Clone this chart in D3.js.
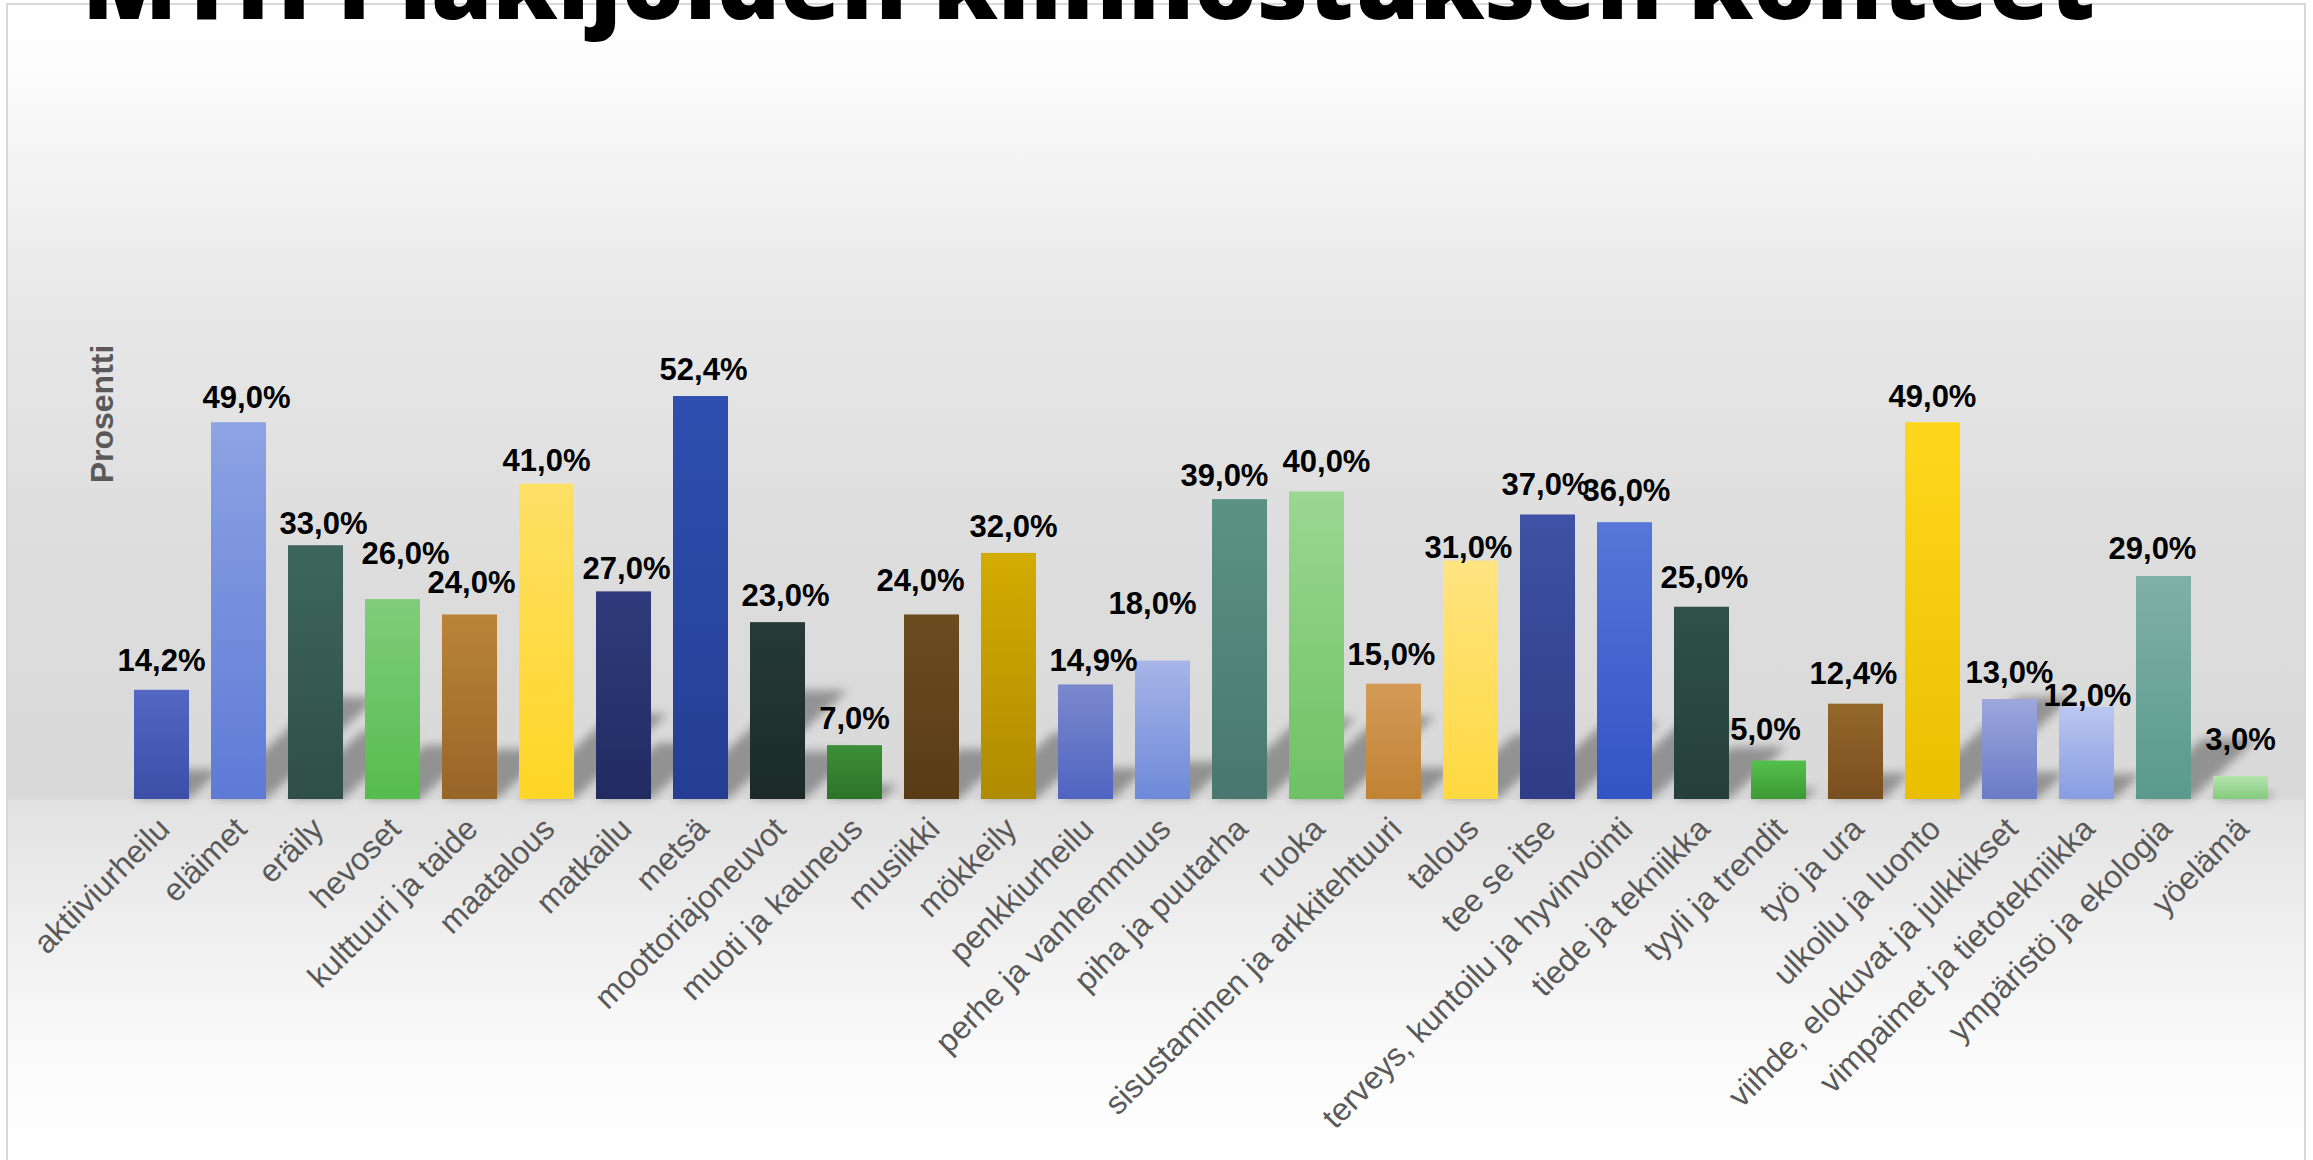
<!DOCTYPE html>
<meta charset="utf-8">
<style>
body {
  margin: 0;
  background: #fff;
}
.title {
  font-family: "Open Sans", "Liberation Sans", sans-serif;
  font-weight: 800;
  fill: #000;
}
.value-label {
  font-family: "Liberation Sans", Arial, sans-serif;
  font-weight: bold;
  font-size: 31px;
  fill: #000;
}
.axis--x text {
  font-family: "Liberation Sans", Arial, sans-serif;
  font-size: 32px;
  fill: #595959;
}
.axis--x path, .axis--x line {
  display: none;
}
.y-label {
  font-family: "Liberation Sans", Arial, sans-serif;
  font-weight: bold;
  font-size: 32px;
  fill: #595959;
}
</style>
<body>
<svg width="2313" height="1160"></svg>

<script src="https://d3js.org/d3.v7.min.js"></script>
<script>
var categories = ["aktiiviurheilu", "eläimet", "eräily", "hevoset", "kulttuuri ja taide",
  "maatalous", "matkailu", "metsä", "moottoriajoneuvot", "muoti ja kauneus", "musiikki",
  "mökkeily", "penkkiurheilu", "perhe ja vanhemmuus", "piha ja puutarha", "ruoka",
  "sisustaminen ja arkkitehtuuri", "talous", "tee se itse", "terveys, kuntoilu ja hyvinvointi",
  "tiede ja tekniikka", "tyyli ja trendit", "työ ja ura", "ulkoilu ja luonto",
  "viihde, elokuvat ja julkkikset", "vimpaimet ja tietotekniikka", "ympäristö ja ekologia", "yöelämä"];

var values = [14.2, 49.0, 33.0, 26.0, 24.0, 41.0, 27.0, 52.4, 23.0, 7.0, 24.0, 32.0, 14.9, 18.0,
  39.0, 40.0, 15.0, 31.0, 37.0, 36.0, 25.0, 5.0, 12.4, 49.0, 13.0, 12.0, 29.0, 3.0];

var topColors = ["#5367c3", "#8da3e3", "#3d665b", "#80cd7b", "#ba8437", "#ffe066", "#2f3b7c",
  "#2e4fb0", "#263b36", "#3c8e37", "#6c4b1f", "#d4ab00", "#7b89cd", "#a7b5e7", "#5a9383",
  "#9ad791", "#d49b58", "#ffe481", "#3e51a4", "#5676d8", "#30504a", "#54c04c", "#94672a",
  "#ffd71c", "#9ca7dc", "#bac7f1", "#7fb0a7", "#b4e4ae"];

var bottomColors = ["#3b4fa9", "#5e7ad6", "#2f4e47", "#56bc4e", "#976528", "#ffd625", "#222b61",
  "#253e93", "#1b2a27", "#2d7328", "#593c16", "#af8b00", "#4f64c1", "#6e89d9", "#49776f",
  "#6fc164", "#c08233", "#ffd93f", "#303d86", "#3254c5", "#253f39", "#3c9935", "#7a4f1f",
  "#eabf00", "#6a7bc6", "#889ce1", "#599a8c", "#85cb7d"];

// label nudges, Excel labels were dragged a bit by hand
var labelShift = [[0, -3], [8, 2], [8, 5], [13, -19], [2, -5], [0, 3], [3, 4], [3, 0], [8, 0],
  [0, 0], [-11, -7], [5, 0], [8, 3], [-10, -31], [-15, 3], [10, -3], [-2, -3], [-2, 13],
  [-2, -3], [2, -5], [3, -3], [-13, -5], [-2, -4], [0, 1], [0, 0], [1, 15], [-11, -1], [0, -10]];

var svg = d3.select("svg"),
    baseY = 799;

var x = d3.scaleBand()
    .domain(categories)
    .range([123, 2279])
    .paddingInner(0.2857)
    .paddingOuter(0.143);

var y = d3.scaleLinear()
    .domain([0, 60])
    .range([baseY, baseY - 60 * 7.69]);

var data = categories.map(function(c, i) {
  return {name: c, value: values[i], top: topColors[i], bottom: bottomColors[i], shift: labelShift[i]};
});

var defs = svg.append("defs");

var bg = defs.append("linearGradient")
    .attr("id", "bg")
    .attr("gradientUnits", "userSpaceOnUse")
    .attr("x1", 0).attr("y1", 0).attr("x2", 0).attr("y2", 1160);
[[0, "#ffffff"], [60, "#fdfdfd"], [300, "#e8e8e8"], [550, "#dddddd"], [798, "#d9d9d9"],
 [801, "#e2e2e2"], [900, "#ececec"], [1050, "#fafafa"], [1160, "#ffffff"]].forEach(function(s) {
  bg.append("stop").attr("offset", s[0] / 1160).attr("stop-color", s[1]);
});

defs.append("filter")
    .attr("id", "blur")
    .attr("x", "-50%").attr("y", "-50%").attr("width", "200%").attr("height", "200%")
  .append("feGaussianBlur")
    .attr("stdDeviation", 5);

data.forEach(function(d, i) {
  var g = defs.append("linearGradient")
      .attr("id", "bar" + i)
      .attr("x1", 0).attr("y1", 0).attr("x2", 0).attr("y2", 1);
  g.append("stop").attr("offset", 0).attr("stop-color", d.top);
  g.append("stop").attr("offset", 1).attr("stop-color", d.bottom);
});

// chart area
svg.append("rect")
    .attr("x", 7)
    .attr("y", 4)
    .attr("width", 2298)
    .attr("height", 1170)
    .attr("fill", "url(#bg)")
    .attr("stroke", "#d9d9d9")
    .attr("stroke-width", 2);

// perspective shadows behind the bars
svg.append("g")
    .attr("filter", "url(#blur)")
  .selectAll(".shadow")
  .data(data)
  .enter().append("polygon")
    .attr("class", "shadow")
    .attr("fill", "#000")
    .attr("fill-opacity", 0.33)
    .attr("points", function(d) {
      var x0 = x(d.name), x1 = x0 + x.bandwidth();
      var dy = (baseY - y(d.value)) * 0.27, dx = dy * 1.1;
      return [[x0, baseY], [x1, baseY], [x1 + dx, baseY - dy], [x0 + dx, baseY - dy]].join(" ");
    });

svg.selectAll(".bar")
  .data(data)
  .enter().append("rect")
    .attr("class", "bar")
    .attr("x", function(d) { return x(d.name); })
    .attr("y", function(d) { return y(d.value); })
    .attr("width", x.bandwidth())
    .attr("height", function(d) { return baseY - y(d.value); })
    .attr("fill", function(d, i) { return "url(#bar" + i + ")"; });

svg.selectAll(".value-label")
  .data(data)
  .enter().append("text")
    .attr("class", "value-label")
    .attr("text-anchor", "middle")
    .attr("x", function(d) { return x(d.name) + x.bandwidth() / 2 + d.shift[0]; })
    .attr("y", function(d) { return y(d.value) - 16 + d.shift[1]; })
    .text(function(d) { return d.value.toFixed(1).replace(".", ",") + "%"; });

svg.append("g")
    .attr("class", "axis axis--x")
    .attr("transform", "translate(0," + baseY + ")")
    .call(d3.axisBottom(x).tickSize(0))
  .selectAll("text")
    .attr("x", 0)
    .attr("y", 0)
    .attr("dy", null)
    .attr("text-anchor", "end")
    .attr("transform", "translate(10,32) rotate(-45)");

svg.append("text")
    .attr("class", "y-label")
    .attr("text-anchor", "middle")
    .attr("transform", "translate(113,414) rotate(-90)")
    .text("Prosentti");

// big title, mostly above the page edge
svg.append("text")
    .attr("class", "title")
    .attr("x", 82)
    .attr("y", 19)
    .attr("font-size", 98)
    .attr("textLength", 2013)
    .attr("lengthAdjust", "spacingAndGlyphs")
    .text("MTH Plakijoiden kiinnostuksen kohteet");
</script>
</body>
